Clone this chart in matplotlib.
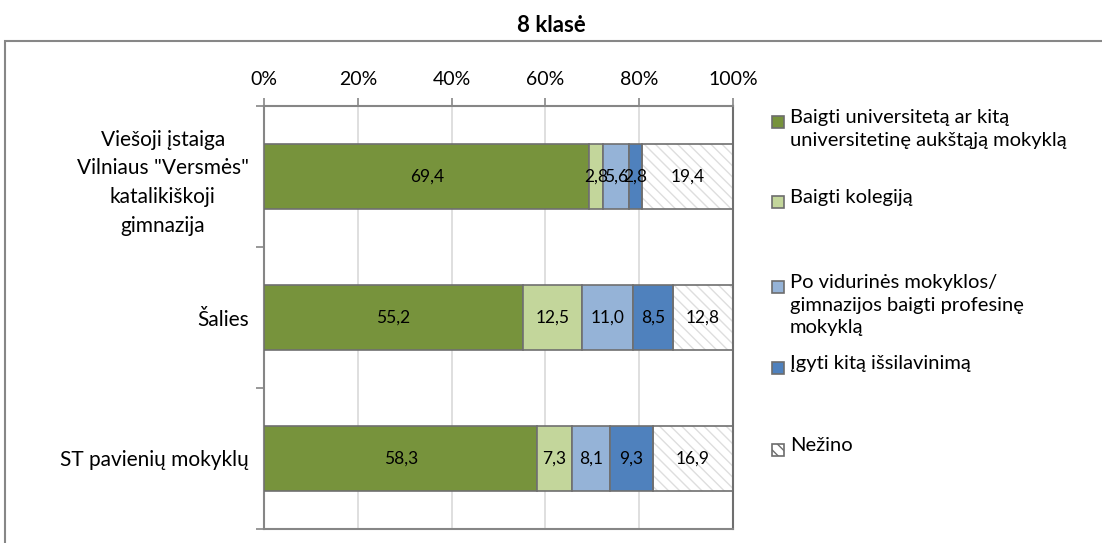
import matplotlib
matplotlib.use("Agg")
import matplotlib.pyplot as plt
from matplotlib.patches import Rectangle
import numpy as np

plt.rcParams["font.family"] = ["Lato", "DejaVu Sans"]

title = "8 klasė"
categories = ['Viešoji įstaiga\nVilniaus "Versmės"\nkatalikiškoji\ngimnazija',
              "Šalies",
              "ST pavienių mokyklų"]
series = ["Baigti universitetą ar kitą\nuniversitetinę aukštąją mokyklą",
          "Baigti kolegiją",
          "Po vidurinės mokyklos/\ngimnazijos baigti profesinę\nmokyklą",
          "Įgyti kitą išsilavinimą",
          "Nežino"]
universitetas = [69.4, 55.2, 58.3]
kolegija = [2.8, 12.5, 7.3]
profesine = [5.6, 11.0, 8.1]
kita = [2.8, 8.5, 9.3]
nezino = [19.4, 12.8, 16.9]
xticks = [0, 20, 40, 60, 80, 100]

colors = ["#77933C", "#C3D69B", "#95B3D7", "#4F81BD", "white"]
edge = "#6f6f6f"
axis_col = "#868686"

fig = plt.figure(figsize=(11.02, 5.43), dpi=100)
ax = fig.add_axes([264 / 1102, 1 - 529 / 543, 469 / 1102, 423 / 543])

y = np.arange(len(categories))
left = np.zeros(len(categories))
values = [universitetas, kolegija, profesine, kita, nezino]
for i, (vals, c) in enumerate(zip(values, colors)):
    vals = np.array(vals)
    if i == 4:
        # hatched fill in light gray, outline drawn separately
        ax.barh(y, vals, left=left, height=0.455, color="white",
                edgecolor="#dedede", hatch="\\\\\\", lw=0, zorder=2)
        bars = ax.barh(y, vals, left=left, height=0.455, fill=False,
                       edgecolor=edge, lw=1.2, zorder=3)
    else:
        bars = ax.barh(y, vals, left=left, height=0.455, color=c,
                       edgecolor=edge, lw=1.2, zorder=3)
    ax.bar_label(bars, labels=[f"{v:.1f}".replace(".", ",") for v in vals],
                 label_type="center", fontsize=12.5, color="black", zorder=4)
    left += vals

ax.set_xlim(0, 100)
ax.set_ylim(-0.5, len(categories) - 0.5)
ax.invert_yaxis()
ax.xaxis.tick_top()
ax.set_xticks(xticks)
ax.set_xticklabels([f"{t}%" for t in xticks], fontsize=14)
ax.tick_params(axis="x", length=6, width=1.2, color=axis_col, pad=7)

ax.set_yticks(y)
ax.set_yticklabels(categories, fontsize=15, multialignment="center",
                   linespacing=1.55)
ax.set_yticks(np.arange(-0.5, len(categories)), minor=True)
ax.tick_params(axis="y", which="major", length=0, pad=11)
ax.tick_params(axis="y", which="minor", length=6, width=1.2, color=axis_col)

ax.grid(axis="x", color="#d9d9d9", lw=1.2, zorder=0)
for s in ax.spines.values():
    s.set_color(axis_col)
    s.set_linewidth(1.5)
ax.spines["right"].set_color("#6f6f6f")

fig.text(551 / 1102, 1 - 26 / 543, title, ha="center", va="center",
         fontsize=16, fontweight="bold")

# outer chart frame
fig.patches.append(Rectangle((5 / 1102, -0.05), 1.1, 1.05 - 41 / 543,
                             transform=fig.transFigure, fill=False,
                             edgecolor="#878787", lw=1.5))

# legend, placed like the original
leg_y = [122, 202, 287, 368, 450]
for lab, c, yy in zip(series, colors, leg_y):
    yf = 1 - yy / 543
    sq = Rectangle((772 / 1102, yf - 6 / 543), 12 / 1102, 12 / 543,
                   transform=fig.transFigure, facecolor=c, edgecolor="#6d6d6d",
                   lw=1.2, hatch="\\\\\\" if c == "white" else None)
    fig.patches.append(sq)
    fig.text(790 / 1102, yf + 13 / 543, lab, ha="left", va="top",
             fontsize=14.5, linespacing=1.4)

fig.savefig("out.png", dpi=100)
